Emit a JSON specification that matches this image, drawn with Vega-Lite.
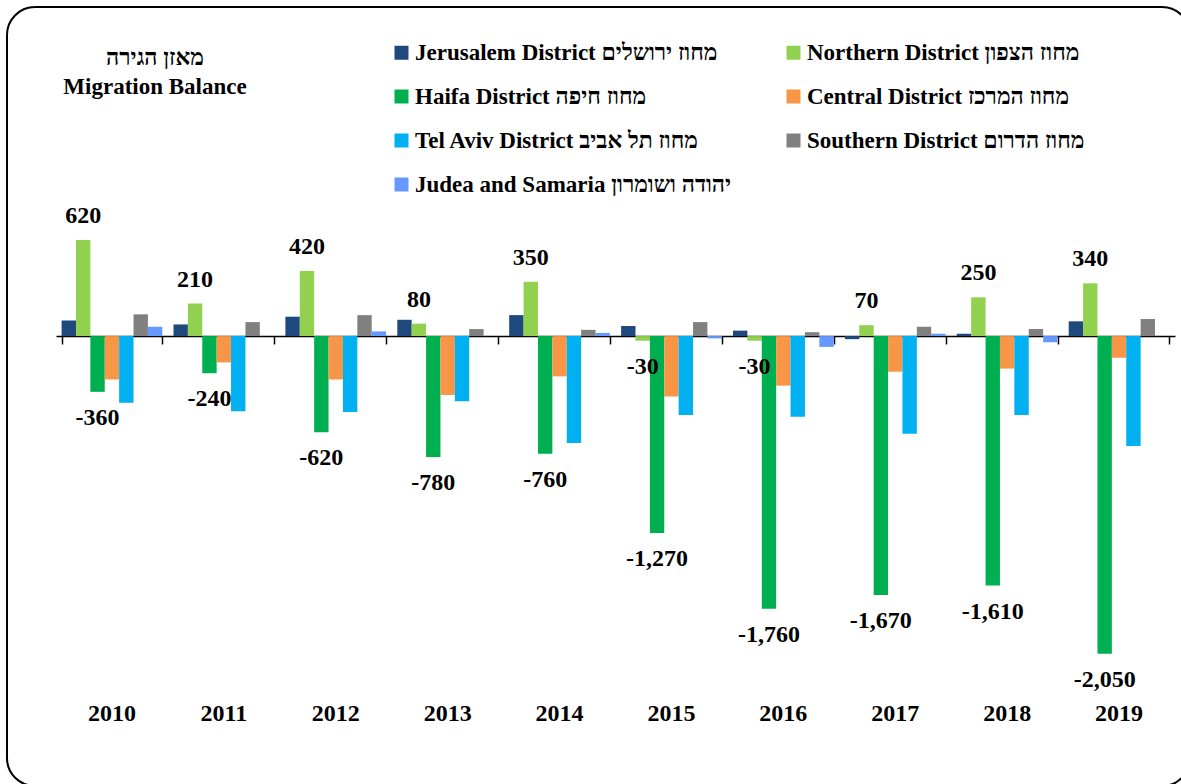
{
  "$schema": "https://vega.github.io/schema/vega-lite/v6.json",
  "width": 1183,
  "height": 779,
  "autosize": {"type": "none"},
  "padding": {"left": 7, "top": 7, "right": 0, "bottom": 0},
  "background": "white",
  "config": {
    "view": {"stroke": "black", "strokeWidth": 2, "cornerRadius": 28},
    "font": "Liberation Serif",
    "locale": {"number": {"decimal": ".", "thousands": ",", "grouping": [3], "currency": ["$", ""], "minus": "-"}}
  },
  "title": {
    "text": ["מאזן הגירה", "Migration Balance"],
    "anchor": "start",
    "frame": "group",
    "align": "center",
    "dx": 148,
    "dy": 92,
    "offset": 0,
    "baseline": "top",
    "fontSize": 23,
    "fontWeight": "bold",
    "font": "Liberation Serif, DejaVu Sans",
    "lineHeight": 29,
    "color": "black"
  },
  "data": {
    "values": [
      {"year": 2010, "district": "Jerusalem District  מחוז ירושלים", "value": 100},
      {"year": 2010, "district": "Northern District מחוז הצפון", "value": 620},
      {"year": 2010, "district": "Haifa District מחוז חיפה", "value": -360},
      {"year": 2010, "district": "Central District מחוז המרכז", "value": -280},
      {"year": 2010, "district": "Tel Aviv District מחוז תל אביב", "value": -430},
      {"year": 2010, "district": "Southern District מחוז הדרום", "value": 140},
      {"year": 2010, "district": " Judea and Samaria יהודה ושומרון", "value": 60},
      {"year": 2011, "district": "Jerusalem District  מחוז ירושלים", "value": 75},
      {"year": 2011, "district": "Northern District מחוז הצפון", "value": 210},
      {"year": 2011, "district": "Haifa District מחוז חיפה", "value": -240},
      {"year": 2011, "district": "Central District מחוז המרכז", "value": -170},
      {"year": 2011, "district": "Tel Aviv District מחוז תל אביב", "value": -485},
      {"year": 2011, "district": "Southern District מחוז הדרום", "value": 90},
      {"year": 2011, "district": " Judea and Samaria יהודה ושומרון", "value": 0},
      {"year": 2012, "district": "Jerusalem District  מחוז ירושלים", "value": 125},
      {"year": 2012, "district": "Northern District מחוז הצפון", "value": 420},
      {"year": 2012, "district": "Haifa District מחוז חיפה", "value": -620},
      {"year": 2012, "district": "Central District מחוז המרכז", "value": -280},
      {"year": 2012, "district": "Tel Aviv District מחוז תל אביב", "value": -490},
      {"year": 2012, "district": "Southern District מחוז הדרום", "value": 135},
      {"year": 2012, "district": " Judea and Samaria יהודה ושומרון", "value": 30},
      {"year": 2013, "district": "Jerusalem District  מחוז ירושלים", "value": 105},
      {"year": 2013, "district": "Northern District מחוז הצפון", "value": 80},
      {"year": 2013, "district": "Haifa District מחוז חיפה", "value": -780},
      {"year": 2013, "district": "Central District מחוז המרכז", "value": -380},
      {"year": 2013, "district": "Tel Aviv District מחוז תל אביב", "value": -420},
      {"year": 2013, "district": "Southern District מחוז הדרום", "value": 45},
      {"year": 2013, "district": " Judea and Samaria יהודה ושומרון", "value": 0},
      {"year": 2014, "district": "Jerusalem District  מחוז ירושלים", "value": 135},
      {"year": 2014, "district": "Northern District מחוז הצפון", "value": 350},
      {"year": 2014, "district": "Haifa District מחוז חיפה", "value": -760},
      {"year": 2014, "district": "Central District מחוז המרכז", "value": -260},
      {"year": 2014, "district": "Tel Aviv District מחוז תל אביב", "value": -690},
      {"year": 2014, "district": "Southern District מחוז הדרום", "value": 40},
      {"year": 2014, "district": " Judea and Samaria יהודה ושומרון", "value": 20},
      {"year": 2015, "district": "Jerusalem District  מחוז ירושלים", "value": 65},
      {"year": 2015, "district": "Northern District מחוז הצפון", "value": -30},
      {"year": 2015, "district": "Haifa District מחוז חיפה", "value": -1270},
      {"year": 2015, "district": "Central District מחוז המרכז", "value": -390},
      {"year": 2015, "district": "Tel Aviv District מחוז תל אביב", "value": -510},
      {"year": 2015, "district": "Southern District מחוז הדרום", "value": 90},
      {"year": 2015, "district": " Judea and Samaria יהודה ושומרון", "value": -15},
      {"year": 2016, "district": "Jerusalem District  מחוז ירושלים", "value": 35},
      {"year": 2016, "district": "Northern District מחוז הצפון", "value": -30},
      {"year": 2016, "district": "Haifa District מחוז חיפה", "value": -1760},
      {"year": 2016, "district": "Central District מחוז המרכז", "value": -320},
      {"year": 2016, "district": "Tel Aviv District מחוז תל אביב", "value": -520},
      {"year": 2016, "district": "Southern District מחוז הדרום", "value": 25},
      {"year": 2016, "district": " Judea and Samaria יהודה ושומרון", "value": -70},
      {"year": 2017, "district": "Jerusalem District  מחוז ירושלים", "value": -20},
      {"year": 2017, "district": "Northern District מחוז הצפון", "value": 70},
      {"year": 2017, "district": "Haifa District מחוז חיפה", "value": -1670},
      {"year": 2017, "district": "Central District מחוז המרכז", "value": -230},
      {"year": 2017, "district": "Tel Aviv District מחוז תל אביב", "value": -630},
      {"year": 2017, "district": "Southern District מחוז הדרום", "value": 60},
      {"year": 2017, "district": " Judea and Samaria יהודה ושומרון", "value": 15},
      {"year": 2018, "district": "Jerusalem District  מחוז ירושלים", "value": 15},
      {"year": 2018, "district": "Northern District מחוז הצפון", "value": 250},
      {"year": 2018, "district": "Haifa District מחוז חיפה", "value": -1610},
      {"year": 2018, "district": "Central District מחוז המרכז", "value": -210},
      {"year": 2018, "district": "Tel Aviv District מחוז תל אביב", "value": -510},
      {"year": 2018, "district": "Southern District מחוז הדרום", "value": 45},
      {"year": 2018, "district": " Judea and Samaria יהודה ושומרון", "value": -40},
      {"year": 2019, "district": "Jerusalem District  מחוז ירושלים", "value": 95},
      {"year": 2019, "district": "Northern District מחוז הצפון", "value": 340},
      {"year": 2019, "district": "Haifa District מחוז חיפה", "value": -2050},
      {"year": 2019, "district": "Central District מחוז המרכז", "value": -140},
      {"year": 2019, "district": "Tel Aviv District מחוז תל אביב", "value": -710},
      {"year": 2019, "district": "Southern District מחוז הדרום", "value": 110},
      {"year": 2019, "district": " Judea and Samaria יהודה ושומרון", "value": 0}
    ]
  },
  "layer": [
    {
      "mark": {"type": "bar"},
      "encoding": {
        "x": {
          "field": "year", "type": "ordinal",
          "scale": {"range": [49, 1168], "paddingInner": 0.1, "paddingOuter": 0.05},
          "axis": {
            "orient": "bottom", "offset": -85, "domain": false, "ticks": false, "tickSize": 0,
            "labelPadding": 0, "labelFontSize": 24, "labelFontWeight": "bold",
            "labelFont": "Liberation Serif", "labelColor": "black", "labelAngle": 0, "title": null
          }
        },
        "xOffset": {
          "field": "district", "type": "nominal",
          "scale": {
            "domain": ["Jerusalem District  מחוז ירושלים", "Northern District מחוז הצפון", "Haifa District מחוז חיפה", "Central District מחוז המרכז", "Tel Aviv District מחוז תל אביב", "Southern District מחוז הדרום", " Judea and Samaria יהודה ושומרון"],
            "paddingInner": 0, "paddingOuter": 0
          }
        },
        "y": {
          "field": "value", "type": "quantitative",
          "scale": {"domain": [-2903, 2123], "nice": false, "zero": false},
          "axis": null
        },
        "color": {
          "field": "district", "type": "nominal",
          "scale": {
            "domain": ["Jerusalem District  מחוז ירושלים", "Northern District מחוז הצפון", "Haifa District מחוז חיפה", "Central District מחוז המרכז", "Tel Aviv District מחוז תל אביב", "Southern District מחוז הדרום", " Judea and Samaria יהודה ושומרון"],
            "range": ["#1F497D", "#92D050", "#00B050", "#F79646", "#00B0F0", "#808080", "#6699FF"]
          },
          "legend": {
            "orient": "none", "legendX": 383, "legendY": 34, "columns": 2, "direction": "horizontal",
            "columnPadding": 50, "rowPadding": 20, "padding": 0,
            "symbolType": "square", "symbolSize": 196, "symbolStrokeWidth": 0,
            "labelFontSize": 23, "labelFont": "Liberation Serif, DejaVu Sans", "labelFontWeight": "bold",
            "labelColor": "black", "labelOffset": 2, "labelLimit": 600, "title": null
          }
        }
      }
    },
    {
      "transform": [
        {"filter": "(indexof(datum.district, 'Northern') >= 0 || indexof(datum.district, 'Haifa') >= 0) && datum.value >= 0"}
      ],
      "mark": {"type": "text", "baseline": "middle", "dy": -24, "fontSize": 24, "fontWeight": "bold", "font": "Liberation Serif", "color": "black"},
      "encoding": {
        "x": {"field": "year", "type": "ordinal", "axis": null},
        "xOffset": {"field": "district", "type": "nominal"},
        "y": {"field": "value", "type": "quantitative"},
        "text": {"field": "value", "type": "quantitative", "format": ","}
      }
    },
    {
      "transform": [
        {"filter": "(indexof(datum.district, 'Northern') >= 0 || indexof(datum.district, 'Haifa') >= 0) && datum.value < 0"}
      ],
      "mark": {"type": "text", "baseline": "middle", "dy": 26, "fontSize": 24, "fontWeight": "bold", "font": "Liberation Serif", "color": "black"},
      "encoding": {
        "x": {
          "field": "year", "type": "ordinal",
          "axis": {
            "orient": "top", "offset": -329, "domain": true, "domainColor": "black", "domainWidth": 1.5,
            "ticks": true, "tickBand": "extent", "tickSize": -8, "tickColor": "black", "tickWidth": 1.5,
            "labels": false, "title": null
          }
        },
        "xOffset": {"field": "district", "type": "nominal"},
        "y": {"field": "value", "type": "quantitative"},
        "text": {"field": "value", "type": "quantitative", "format": ","}
      }
    }
  ],
  "resolve": {"axis": {"x": "independent"}}
}
